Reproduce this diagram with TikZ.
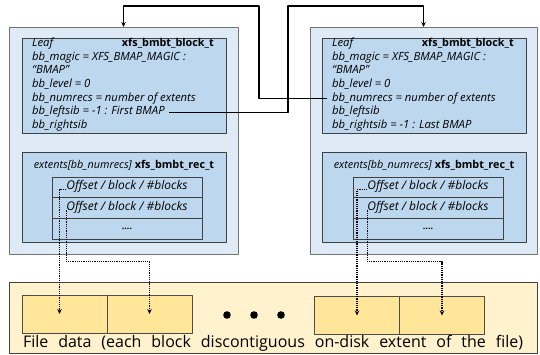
\documentclass[tikz,border=0pt]{standalone}
\usepackage{fontspec}
\setmainfont{Open Sans}
\usetikzlibrary{arrows.meta}
\definecolor{outerblue}{HTML}{DEEBF7}
\definecolor{innerblue}{HTML}{BDD7EE}
\definecolor{filecream}{HTML}{FFF2CC}
\definecolor{blockgold}{HTML}{FFE699}
\begin{document}
\begin{tikzpicture}[x=1pt, y=-1pt, line join=round, >={Stealth[length=5pt,width=4.5pt]},
  box/.style={draw, inner sep=0pt, outer sep=0pt},
  outer/.style={box, draw=black!55, fill=outerblue, line width=0.8pt},
  inner/.style={box, draw=black!75, fill=innerblue, line width=0.8pt},
  rowbox/.style={inner, minimum width=150pt, minimum height=20.67pt},
  blk/.style={box, draw=black!70, fill=blockgold, line width=0.7pt, minimum width=85pt, minimum height=38pt},
  fld/.style={font=\itshape\fontsize{11.3}{12}\selectfont, inner sep=0pt, anchor=west, text height=7pt, text depth=2pt},
  tname/.style={font=\bfseries\fontsize{10.8}{12}\selectfont, inner sep=0pt, anchor=east, text height=7pt, text depth=2pt},
  link/.style={->, line width=1.1pt},
  dots/.style={->, densely dotted, line width=1.2pt}]
\useasboundingbox (0,0) rectangle (540,355);
\def\dy{13.7}
% left leaf
\node[outer, minimum width=229pt, minimum height=227pt] (lblk) at (123.5,140.5) {};
\node[inner, minimum width=204pt, minimum height=95pt] (lhead) at (124,85.5) {};
\node[fld] (lleaf) at (32,44) {Leaf};
\node[tname] (lname) at (214,44) {xfs\_bmbt\_block\_t};
\node[fld] (lmagic) at (32,44+\dy) {bb\_magic = XFS\_BMAP\_MAGIC :};
\node[fld] (lstr) at (32,44+2*\dy) {“BMAP”};
\node[fld] (llevel) at (32,44+3*\dy) {bb\_level = 0};
\node[fld] (lnum) at (32,44+4*\dy) {bb\_numrecs = number of extents};
\node[fld] (lleft) at (32,44+5*\dy) {bb\_leftsib = -1 : First BMAP};
\node[fld] (lright) at (32,44+6*\dy) {bb\_rightsib};
\node[inner, minimum width=204pt, minimum height=90pt] (lext) at (124,197) {};
\node[font=\fontsize{10.8}{12}\selectfont, inner sep=0pt] (lexttitle) at (124,165)
  {\textit{extents[bb\_numrecs]} \textbf{xfs\_bmbt\_rec\_t}};
\node[rowbox] (lr1) at (127,187.3) {};
\node[rowbox] (lr2) at (127,208) {};
\node[rowbox] (lr3) at (127,228.7) {};
\node[fld, anchor=center, font=\itshape\fontsize{12}{13}\selectfont] (lt1) at (lr1) {Offset / block / \#blocks};
\node[fld, anchor=center, font=\itshape\fontsize{12}{13}\selectfont] (lt2) at (lr2) {Offset / block / \#blocks};
\node[font=\bfseries\fontsize{9}{11}\selectfont, inner sep=0pt] (lt3) at (lr3) {....};
% right leaf
\node[outer, minimum width=227pt, minimum height=227pt] (rblk) at (423.5,140.5) {};
\node[inner, minimum width=204pt, minimum height=95pt] (rhead) at (424,85.5) {};
\node[fld] (rleaf) at (332,44) {Leaf};
\node[tname] (rname) at (514,44) {xfs\_bmbt\_block\_t};
\node[fld] (rmagic) at (332,44+\dy) {bb\_magic = XFS\_BMAP\_MAGIC :};
\node[fld] (rstr) at (332,44+2*\dy) {“BMAP”};
\node[fld] (rlevel) at (332,44+3*\dy) {bb\_level = 0};
\node[fld] (rnum) at (332,44+4*\dy) {bb\_numrecs = number of extents};
\node[fld] (rleft) at (332,44+5*\dy) {bb\_leftsib};
\node[fld] (rright) at (332,44+6*\dy) {bb\_rightsib = -1 : Last BMAP};
\node[inner, minimum width=204pt, minimum height=90pt] (rext) at (424,197) {};
\node[font=\fontsize{10.8}{12}\selectfont, inner sep=0pt] (rexttitle) at (424,165)
  {\textit{extents[bb\_numrecs]} \textbf{xfs\_bmbt\_rec\_t}};
\node[rowbox] (rr1) at (428,187.3) {};
\node[rowbox] (rr2) at (428,208) {};
\node[rowbox] (rr3) at (428,228.7) {};
\node[fld, anchor=center, font=\itshape\fontsize{12}{13}\selectfont] (rt1) at (rr1) {Offset / block / \#blocks};
\node[fld, anchor=center, font=\itshape\fontsize{12}{13}\selectfont] (rt2) at (rr2) {Offset / block / \#blocks};
\node[font=\bfseries\fontsize{9}{11}\selectfont, inner sep=0pt] (rt3) at (rr3) {....};
% file data
\node[box, draw=black!75, fill=filecream, line width=0.8pt, minimum width=528pt, minimum height=71pt] (fdata) at (273,318) {};
\node[blk] (lb1) at (64.5,314) {};
\node[blk] (lb2) at (149.5,314) {};
\node[blk] (rb1) at (357,315.5) {};
\node[blk] (rb2) at (442,315.5) {};
\foreach \x in {227,254,281} \fill (\x,315) circle (3.8pt);
\node[font=\fontsize{16}{18}\selectfont, inner sep=0pt] (ftxt) at (273,343)
  {\makebox[500pt][s]{File data (each block discontiguous on-disk extent of the file)}};
% sibling links
\coordinate (ka) at (259,6);
\coordinate (kb) at (288,6);
\draw[link] ([xshift=-5pt]rnum.west) -| (ka) -| (lblk.north);
\draw[link] ([xshift=4pt]lleft.east) -| (kb) -| (rblk.north);
% extent pointers
\draw[dots] (lt1.base west) -| ([xshift=-5pt]lb1.center);
\draw[dots] (lt2.base west) -- ++(0,51) -| (lb2.center);
\draw[dots] (rt1.base west) -| (rb1.center);
\draw[dots] (rt2.base west) -- ++(0,51) -| (rb2.center);
\end{tikzpicture}
\end{document}
